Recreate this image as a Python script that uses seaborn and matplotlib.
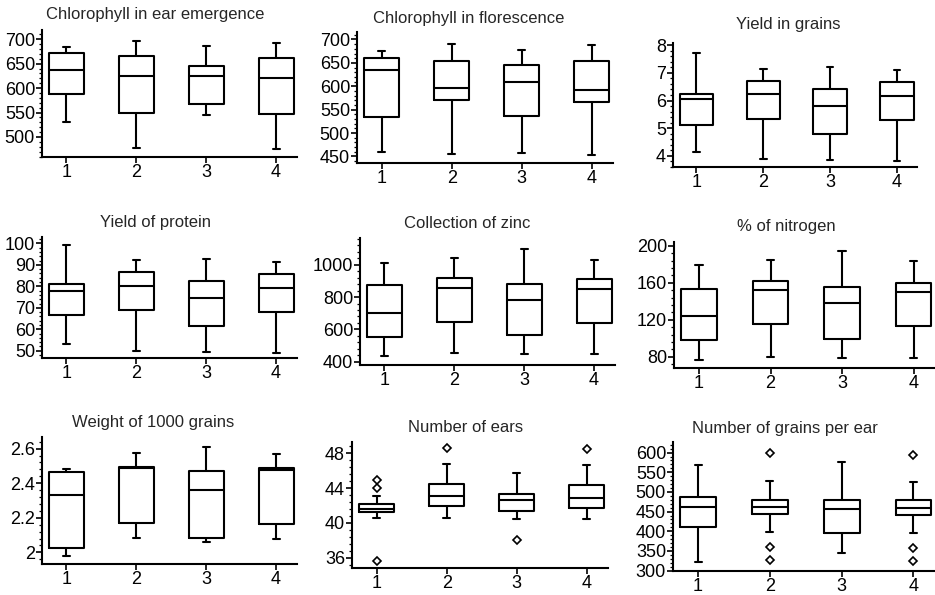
import numpy as np
import pandas as pd
import seaborn as sns
import matplotlib
matplotlib.use("Agg")
import matplotlib.pyplot as plt
from matplotlib.ticker import AutoMinorLocator

# ---------------- data ----------------
GROUPS = ["1", "2", "3", "4"]

# each row: [lower whisker, Q1, median, Q3, upper whisker] for groups 1..4
CHL_EAR = [[531, 587, 637, 671, 684], [478, 550, 625, 666, 696],
           [544, 568, 625, 645, 686], [475, 547, 621, 662, 693]]
CHL_FLOR = [[459, 535, 634, 661, 676], [456, 570, 596, 655, 691],
            [458, 536, 609, 645, 678], [454, 566, 593, 653, 689]]
YIELD_GRAIN = [[4.13, 5.13, 6.05, 6.25, 7.72], [3.88, 5.35, 6.22, 6.71, 7.14],
               [3.84, 4.80, 5.80, 6.42, 7.22], [3.82, 5.30, 6.18, 6.67, 7.10]]
YIELD_PROT = [[53.3, 66.6, 77.9, 81.0, 99.4], [49.9, 68.9, 80.0, 86.7, 92.3],
              [49.4, 61.6, 74.5, 82.7, 92.7], [48.9, 68.1, 79.0, 85.8, 91.5]]
ZINC = [[437, 551, 702, 876, 1014], [456, 646, 859, 921, 1045],
        [446, 568, 783, 880, 1099], [450, 638, 851, 909, 1031]]
NITROGEN = [[77, 98, 124, 153, 179], [80, 115, 152, 162, 185],
            [78.5, 99.6, 138, 155, 194], [79, 113.6, 150, 160, 183]]
WEIGHT = [[1.977, 2.027, 2.331, 2.463, 2.481], [2.085, 2.171, 2.485, 2.495, 2.577],
          [2.062, 2.081, 2.358, 2.471, 2.610], [2.077, 2.163, 2.477, 2.487, 2.567]]
EARS = [[40.53, 41.26, 41.6, 42.17, 43.09], [40.61, 41.9, 43.05, 44.46, 46.78],
        [40.46, 41.41, 42.63, 43.35, 45.68], [40.42, 41.71, 42.82, 44.34, 46.63]]
EARS_OUT = [[35.66, 43.96, 44.95], [48.61], [38.06], [48.5]]
GRAINS = [[321, 411.5, 461, 487, 569], [397, 445, 460.6, 480, 528],
          [345, 395.6, 455.6, 480, 577], [395, 441, 459, 479, 525.6]]
GRAINS_OUT = [[], [327, 359, 599], [], [324.5, 356.6, 595]]
NO_OUT = [[], [], [], []]


def sample(stats, outliers):
    """Small sample whose quartiles / whiskers / fliers give the read box."""
    lo, q1, med, q3, hi = stats
    k = 3
    low = sorted(v for v in outliers if v < q1)
    high = sorted(v for v in outliers if v > q3)
    low = low + [lo] * (k - len(low))
    high = [hi] * (k - len(high)) + high
    return low + [q1] * k + [med] + [q3] * k + high


def to_frame(box_stats, box_out):
    rows = []
    for g, st, out in zip(GROUPS, box_stats, box_out):
        for v in sample(st, out):
            rows.append((g, v))
    return pd.DataFrame(rows, columns=["group", "value"])


# (title, stats, outliers, ylim, yticks, yticklabels, rect px (l, t, r, b), title centre x, title y)
PANELS = [
    ("Chlorophyll in ear emergence", CHL_EAR, NO_OUT, (459, 719),
     [500, 550, 600, 650, 700], None, (42, 30, 297, 157), 155, 15),
    ("Chlorophyll in florescence", CHL_FLOR, NO_OUT, (436, 716),
     [450, 500, 550, 600, 650, 700], None, (357, 32, 613, 163), 469, 18),
    ("Yield in grains", YIELD_GRAIN, NO_OUT, (3.6, 8.08),
     [4, 5, 6, 7, 8], None, (673, 43, 917, 167), 788, 24),
    ("Yield of protein", YIELD_PROT, NO_OUT, (46.6, 103),
     [50, 60, 70, 80, 90, 100], None, (42, 237, 297, 358), 155, 223),
    ("Collection of zinc", ZINC, NO_OUT, (379, 1166),
     [400, 600, 800, 1000], None, (360, 238, 615, 365), 467, 224),
    ("% of nitrogen", NITROGEN, NO_OUT, (68, 204),
     [80, 120, 160, 200], None, (674, 242, 935, 368), 786, 227),
    ("Weight of 1000 grains", WEIGHT, NO_OUT, (1.933, 2.667),
     [2.0, 2.2, 2.4, 2.6], ["2", "2.2", "2.4", "2.6"], (42, 437, 297, 564), 153, 423),
    ("Number of ears", EARS, EARS_OUT, (34.8, 49.3),
     [36, 40, 44, 48], None, (352, 442, 608, 568), 466, 427),
    ("Number of grains per ear", GRAINS, GRAINS_OUT, (299, 627),
     [300, 350, 400, 450, 500, 550, 600], None, (673, 442, 935, 571), 785, 429),
]

sns.set_style("ticks")
plt.rcParams["font.family"] = ["Liberation Sans", "DejaVu Sans"]

W, H = 935, 595
fig = plt.figure(figsize=(W / 100, H / 100), dpi=100)

for title, stats, outs, ylim, yticks, ylabels, rect, tx, ty in PANELS:
    l, t, r, b = rect
    ax = fig.add_axes([l / W, 1 - b / H, (r - l) / W, (b - t) / H])
    df = to_frame(stats, outs)
    has_out = any(len(o) for o in outs)
    sns.boxplot(
        data=df, x="group", y="value", order=GROUPS, ax=ax,
        width=0.5, fill=False, color="black", linecolor="black",
        linewidth=1.5, whis=1.5 if has_out else (0, 100),
        flierprops=dict(marker="D", markersize=4, markerfacecolor="white",
                        markeredgecolor="black", markeredgewidth=1.2),
        capwidths=0.1,
    )
    ax.set_xlim(-0.35, 3.3)
    ax.set_ylim(*ylim)
    ax.set_yticks(yticks)
    if ylabels is not None:
        ax.set_yticklabels(ylabels)
    ax.yaxis.set_minor_locator(AutoMinorLocator(5))
    ax.set_xlabel("")
    ax.set_ylabel("")
    sns.despine(ax=ax)
    for s in ("left", "bottom"):
        ax.spines[s].set_linewidth(1.5)
        ax.spines[s].set_color("black")
    ax.tick_params(axis="both", which="major", labelsize=13, length=4,
                   width=1.2, colors="black", pad=1)
    ax.tick_params(axis="y", which="minor", length=2, width=0.9, colors="black")
    fig.text(tx / W, 1 - ty / H, title, ha="center", va="center", fontsize=12)

fig.savefig("out.png", dpi=100)
